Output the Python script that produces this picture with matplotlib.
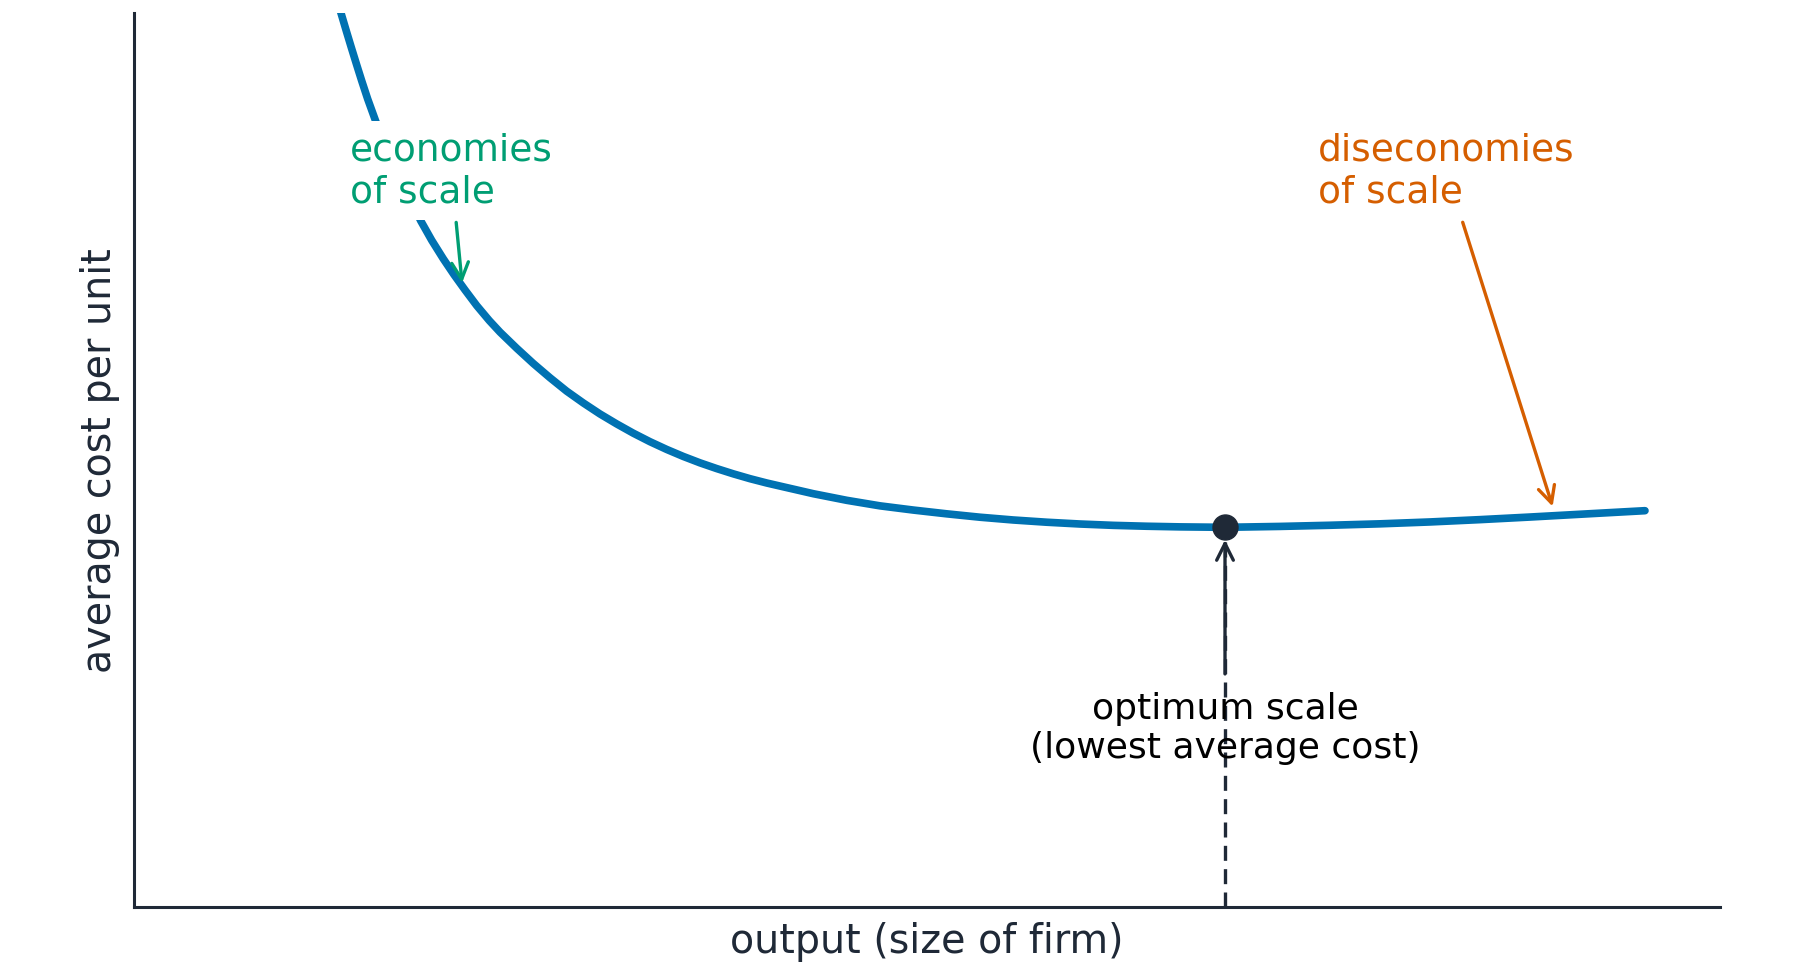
import matplotlib
matplotlib.use('Agg')
import matplotlib.pyplot as plt

# long-run average cost curve
output = [1.26, 1.305, 1.341, 1.370, 1.404, 1.436, 1.473, 1.524, 1.665, 1.808, 1.877, 1.950,
          2.018, 2.087, 2.161, 2.240, 2.308, 2.413, 2.518, 2.623, 2.728, 2.833, 2.938, 3.044,
          3.148, 3.253, 3.359, 3.463, 3.569, 3.674, 3.779, 3.884, 3.989, 4.094, 4.283, 4.494,
          4.704, 4.914, 5.124, 5.334, 5.544, 5.755, 5.965, 6.175, 6.385, 6.595, 6.879, 7.226,
          7.541, 7.856, 8.172, 8.487, 8.802, 9.117, 9.527]
avg_cost = [10.27, 10.00, 9.785, 9.615, 9.42, 9.24, 9.04, 8.79, 8.20, 7.675, 7.458, 7.251,
            7.072, 6.902, 6.727, 6.56, 6.43, 6.25, 6.079, 5.92, 5.77, 5.638, 5.515, 5.403,
            5.30, 5.205, 5.118, 5.04, 4.968, 4.904, 4.845, 4.791, 4.743, 4.70, 4.623, 4.549,
            4.487, 4.44, 4.398, 4.36, 4.329, 4.304, 4.284, 4.269, 4.259, 4.252, 4.247, 4.257,
            4.27, 4.286, 4.307, 4.333, 4.362, 4.393, 4.433]

opt_x, opt_y = 6.879, 4.247
eco_xy, eco_text_xy = (2.07, 6.95), (1.36, 8.24)
dis_xy, dis_text_xy = (8.95, 4.45), (7.465, 8.24)
opt_text_xy = (6.879, 2.01)

BLUE = '#0072B2'
GREEN = '#009E73'
ORANGE = '#D55E00'
DARK = '#1f2937'


def plot():
    fig = plt.figure(figsize=(18, 9.78), dpi=100)
    ax = fig.add_axes([134 / 1800, 1 - 908 / 978, (1720 - 134) / 1800, (908 - 14) / 978])

    ax.plot(output, avg_cost, color=BLUE, lw=5.5, solid_capstyle='round',
            solid_joinstyle='round', zorder=2)
    ax.vlines(opt_x, 0, opt_y, colors=DARK, linestyles=(0, (4.5, 2.5)), lw=2.4, zorder=2)
    ax.plot([opt_x], [opt_y], 'o', color=DARK, markersize=18, zorder=5)

    # labels + arrows
    ax.annotate('economies\nof scale', xy=eco_xy, xytext=eco_text_xy, color=GREEN,
                fontsize=27, ha='left', va='center', zorder=4,
                bbox=dict(boxstyle='square,pad=0.28', fc='white', ec='none'),
                arrowprops=dict(arrowstyle='->', color=GREEN, lw=2.4, mutation_scale=30))
    ax.annotate('diseconomies\nof scale', xy=dis_xy, xytext=dis_text_xy, color=ORANGE,
                fontsize=27, ha='left', va='center', zorder=4,
                bbox=dict(boxstyle='square,pad=0.28', fc='white', ec='none'),
                arrowprops=dict(arrowstyle='->', color=ORANGE, lw=2.4, mutation_scale=30))
    ax.annotate('optimum scale\n(lowest average cost)', xy=(opt_x, opt_y), xytext=opt_text_xy,
                color='black', fontsize=26, ha='center', va='center', multialignment='center',
                zorder=4,
                arrowprops=dict(arrowstyle='->', color=DARK, lw=2.4, mutation_scale=30,
                                shrinkA=10, shrinkB=9))

    ax.set_xlim(0, 10)
    ax.set_ylim(0, 10)
    ax.set_xticks([])
    ax.set_yticks([])
    for side in ['top', 'right']:
        ax.spines[side].set_visible(False)
    for side in ['left', 'bottom']:
        ax.spines[side].set_color(DARK)
        ax.spines[side].set_linewidth(2.2)

    ax.set_xlabel('output (size of firm)', fontsize=28.5, color=DARK, labelpad=10)
    ax.set_ylabel('average cost per unit', fontsize=28.5, color=DARK, labelpad=10)

    fig.savefig('out.png', dpi=100, facecolor='white')


if __name__ == "__main__":
    plot()
